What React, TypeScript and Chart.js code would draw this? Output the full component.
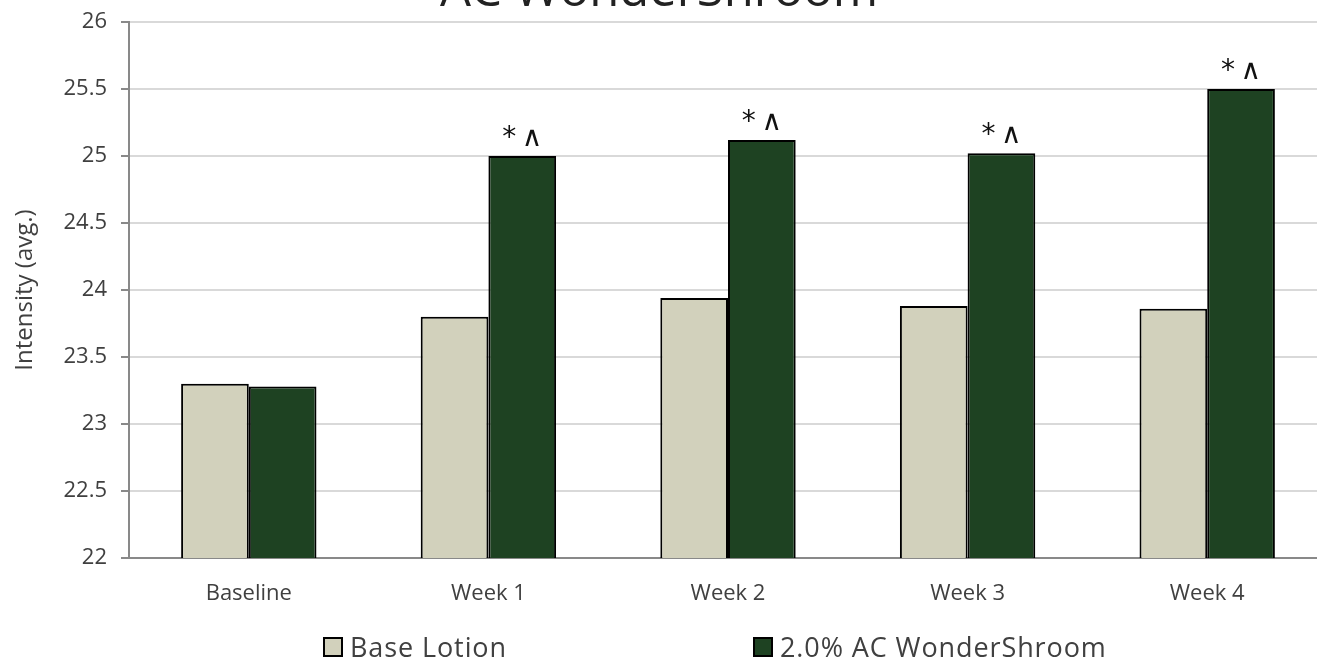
import React, { useEffect, useRef } from "react";
import { Chart, registerables } from "chart.js";

Chart.register(...registerables);

const categories = ["Baseline", "Week 1", "Week 2", "Week 3", "Week 4"];
const baseLotion = [23.3, 23.8, 23.94, 23.88, 23.86];
const wonderShroom = [23.28, 25.0, 25.12, 25.02, 25.5];
const significance = ["", "*\u2009∧", "*\u2009∧", "*\u2009∧", "*\u2009∧"];
const seriesNames = ["Base Lotion", "2.0% AC WonderShroom"];
const chartTitle = "AC WonderShroom";
const yAxisTitle = "Intensity (avg.)";

const BASE_COLOR = "#d2d1bc";
const GREEN_COLOR = "#1e4222";
const FONT = "'Open Sans', 'Noto Sans', sans-serif";

const overlayPlugin = {
  id: "overlay",
  afterDatasetsDraw(chart: any) {
    const ctx = chart.ctx;
    const meta = chart.getDatasetMeta(1);
    ctx.save();
    ctx.fillStyle = "#111";
    ctx.font = `28px 'DejaVu Sans', sans-serif`;
    ctx.textAlign = "center";
    ctx.textBaseline = "alphabetic";
    meta.data.forEach((bar: any, i: number) => {
      if (significance[i]) ctx.fillText(significance[i], bar.x, bar.y - 10);
    });
    ctx.restore();
  },
  afterDraw(chart: any) {
    const ctx = chart.ctx;
    ctx.save();
    // title (cropped at top)
    ctx.fillStyle = "#222";
    ctx.font = `49px ${FONT}`;
    ctx.textAlign = "center";
    ctx.textBaseline = "alphabetic";
    ctx.fillText(chartTitle, 659, 6);
    // legend
    const items = [
      { x: 324, color: BASE_COLOR, text: seriesNames[0] },
      { x: 754, color: GREEN_COLOR, text: seriesNames[1] },
    ];
    ctx.font = `27px ${FONT}`;
    (ctx as any).letterSpacing = "0.9px";
    ctx.textAlign = "left";
    ctx.textBaseline = "alphabetic";
    items.forEach((it) => {
      ctx.fillStyle = it.color;
      ctx.fillRect(it.x, 638, 18, 18);
      ctx.strokeStyle = "#000";
      ctx.lineWidth = 2;
      ctx.strokeRect(it.x, 638, 18, 18);
      ctx.fillStyle = "#404040";
      ctx.fillText(it.text, it.x + 26, 657);
    });
    ctx.restore();
  },
};

export default function App() {
  const ref = useRef<HTMLCanvasElement>(null);
  useEffect(() => {
    if (!ref.current) return;
    const chart = new Chart(ref.current, {
      type: "bar",
      data: {
        labels: categories,
        datasets: [
          {
            label: seriesNames[0],
            data: baseLotion,
            backgroundColor: BASE_COLOR,
            borderColor: "#000",
            borderWidth: 2,
            barPercentage: 1,
            categoryPercentage: 0.565,
          },
          {
            label: seriesNames[1],
            data: wonderShroom,
            backgroundColor: GREEN_COLOR,
            borderColor: "#000",
            borderWidth: 2,
            barPercentage: 1,
            categoryPercentage: 0.565,
          },
        ],
      },
      options: {
        responsive: false,
        animation: false,
        layout: { padding: { top: 22, right: 3, left: 0, bottom: 0 } },
        plugins: {
          legend: { display: false },
          title: { display: false },
          tooltip: { enabled: false },
        },
        scales: {
          x: {
            grid: { display: false, drawTicks: false },
            border: { display: true, color: "#898989", width: 2 },
            ticks: { color: "#404040", font: { family: FONT, size: 22 }, padding: 23 },
            afterFit: (s: any) => {
              s.height = 103;
              s.paddingLeft = 0;
              s.paddingRight = 0;
            },
          },
          y: {
            min: 22,
            max: 26,
            ticks: {
              stepSize: 0.5,
              color: "#404040",
              font: { family: FONT, size: 22 },
              padding: 14,
              callback: (v: any) => String(Number(v)),
            },
            grid: { color: "#d9d9d9", lineWidth: 2, tickColor: "#898989", tickLength: 8 },
            border: { display: true, color: "#898989", width: 2 },
            title: {
              display: true,
              text: yAxisTitle,
              color: "#404040",
              font: { family: FONT, size: 24 },
              padding: { top: 11, bottom: 0 },
            },
            afterFit: (s: any) => {
              s.width = 129;
              s.paddingTop = 0;
              s.paddingBottom = 0;
            },
          },
        },
      },
      plugins: [overlayPlugin],
    } as any);
    return () => chart.destroy();
  }, []);
  return (
    <div
      style={{
        position: "fixed",
        left: 0,
        top: 0,
        width: 1317,
        height: 661,
        overflow: "hidden",
        background: "#fff",
      }}
    >
      <canvas ref={ref} width={1330} height={661} style={{ display: "block" }} />
    </div>
  );
}
